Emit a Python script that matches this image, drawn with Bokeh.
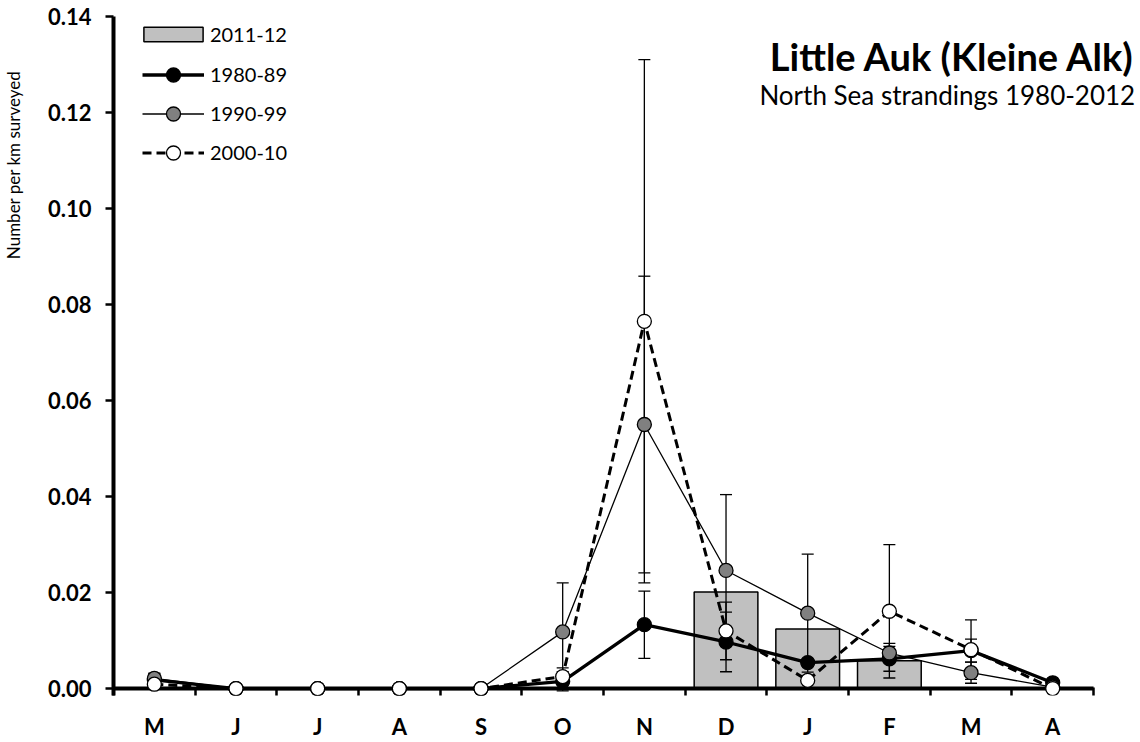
import numpy as np
from bokeh.plotting import figure
from bokeh.models import (ColumnDataSource, Range1d, FixedTicker, CustomJSTickFormatter,
                          NumeralTickFormatter, Whisker, TeeHead, Label, Legend, LegendItem, Title)
from bokeh.embed import file_html
from bokeh.resources import INLINE

NaN = float("nan")

# ---- data ----
months = ["M", "J", "J", "A", "S", "O", "N", "D", "J", "F", "M", "A"]
bars_2011_12 = [NaN, NaN, NaN, NaN, NaN, NaN, NaN, 0.0201, 0.0124, 0.0058, NaN, NaN]

y_1980_89 = [0.0018, 0.0, 0.0, 0.0, 0.0, 0.0015, 0.0133, 0.0097, 0.0054, 0.0062, 0.0079, 0.0012]
e_1980_89 = [0.0014, 0.0, 0.0, 0.0, 0.0, 0.0020, 0.0070, 0.0062, 0.0008, 0.0026, 0.0024, 0.0004]

y_1990_99 = [0.0021, 0.0, 0.0, 0.0, 0.0, 0.0118, 0.0550, 0.0246, 0.0157, 0.0074, 0.0033, 0.0003]
e_1990_99 = [0.0010, 0.0, 0.0, 0.0, 0.0, 0.0102, 0.0309, 0.0158, 0.0123, 0.0020, 0.0022, 0.0002]

y_2000_10 = [0.0009, 0.0, 0.0, 0.0, 0.0, 0.0025, 0.0765, 0.0120, 0.0017, 0.0161, 0.0081, 0.0]
e_2000_10 = [0.0005, 0.0, 0.0, 0.0, 0.0, 0.0018, 0.0545, 0.0060, 0.0006, 0.0139, 0.0062, 0.0001]

y_ticks = [0.0, 0.02, 0.04, 0.06, 0.08, 0.10, 0.12, 0.14]

title_text = "Little Auk (Kleine Alk)"
subtitle_text = "North Sea strandings 1980-2012"
y_label_text = "Number per km surveyed"

# ---- figure ----
n = len(months)
x = list(np.arange(n) + 0.5)

p = figure(width=1140, height=742, x_range=Range1d(0, n + 0.575),
           y_range=Range1d(-0.00145, 0.14), output_backend="svg", toolbar_location=None,
           min_border_left=113, min_border_right=0, min_border_top=16, min_border_bottom=43)
p.outline_line_color = None
p.xgrid.visible = False
p.ygrid.visible = False
p.background_fill_color = "white"

# bars
bar_r = p.vbar(x=x, top=bars_2011_12, bottom=0, width=0.78, fill_color="#c0c0c0",
               line_color="black", line_width=1.5, level="underlay")

# x axis base line at zero (spanning the categories)
p.segment(x0=[0], y0=[0], x1=[n], y1=[0], line_color="black", line_width=4, level="underlay")

# error bars
def add_whisker(vals, errs):
    xs = [xi for xi, e in zip(x, errs) if e > 0]
    up = [v + e for v, e in zip(vals, errs) if e > 0]
    lo = [v - e for v, e in zip(vals, errs) if e > 0]
    src = ColumnDataSource(dict(base=xs, upper=up, lower=lo))
    w = Whisker(source=src, base="base", upper="upper", lower="lower", level="underlay",
                line_color="black", line_width=1.3,
                upper_head=TeeHead(size=12, line_color="black", line_width=1.3),
                lower_head=TeeHead(size=12, line_color="black", line_width=1.3))
    p.add_layout(w)

add_whisker(y_1980_89, e_1980_89)
add_whisker(y_1990_99, e_1990_99)
add_whisker(y_2000_10, e_2000_10)

# series
l1 = p.line(x, y_1980_89, line_color="black", line_width=3.3, line_join="round")
s1 = p.scatter(x, y_1980_89, size=14, marker="circle", fill_color="black",
               line_color="black", line_width=1.3)
l2 = p.line(x, y_1990_99, line_color="black", line_width=1.3, line_join="round")
s2 = p.scatter(x, y_1990_99, size=14, marker="circle", fill_color="#808080",
               line_color="black", line_width=1.3)
l3 = p.line(x, y_2000_10, line_color="black", line_width=3, line_dash="9 5", line_join="round")
s3 = p.scatter(x, y_2000_10, size=14, marker="circle", fill_color="white",
               line_color="black", line_width=1.3)

# axes
xa = p.xaxis[0]
xa.ticker = FixedTicker(ticks=x, minor_ticks=list(range(n + 1)))
xa.formatter = CustomJSTickFormatter(args=dict(labels=months),
                                     code="return labels[Math.floor(tick)];")
xa.axis_line_color = None
xa.major_tick_line_color = None
xa.major_tick_out = 0
xa.major_tick_in = 0
xa.minor_tick_in = 8
xa.minor_tick_out = 0
xa.minor_tick_line_color = "black"
xa.minor_tick_line_width = 2.5
xa.major_label_standoff = 17
xa.major_label_text_font = "Lato"
xa.major_label_text_font_style = "bold"
xa.major_label_text_font_size = "22px"
xa.major_label_text_color = "black"

ya = p.yaxis[0]
ya.ticker = FixedTicker(ticks=y_ticks)
ya.formatter = NumeralTickFormatter(format="0.00")
ya.axis_line_color = "black"
ya.axis_line_width = 4
ya.major_tick_out = 8
ya.major_tick_in = 0
ya.major_tick_line_width = 2.5
ya.minor_tick_line_color = None
ya.major_label_standoff = 14
ya.major_label_text_font = "Lato"
ya.major_label_text_font_style = "bold"
ya.major_label_text_font_size = "22px"
ya.major_label_text_color = "black"
# invisible spacer label, pushes the axis title further out
ya.axis_label = " "
ya.axis_label_text_font_size = "1px"
ya.axis_label_standoff = 17

# y axis title (left side, aligned near the top)
yt = Title(text=y_label_text, align="right", vertical_align="bottom", text_font="Lato",
           text_font_style="normal", text_font_size="17px", text_color="black")
yt.offset = 54
try:
    yt.standoff = 0
except Exception:
    pass
p.add_layout(yt, "left")

# chart title / subtitle
p.add_layout(Label(x=12.51, y=0.1317, text=title_text, text_align="right",
                   text_baseline="middle", text_font="Lato", text_font_style="bold",
                   text_font_size="38px", text_color="black"))
p.add_layout(Label(x=12.51, y=0.1236, text=subtitle_text, text_align="right",
                   text_baseline="middle", text_font="Lato",
                   text_font_size="26px", text_color="black"))

# legends
leg1 = Legend(items=[LegendItem(label="2011-12", renderers=[bar_r])],
              location=(22.9, 649), glyph_width=74, glyph_height=18, label_height=18,
              label_standoff=0, padding=0, margin=0, spacing=0,
              border_line_color=None, background_fill_alpha=0,
              label_text_font="Lato", label_text_font_size="20px", label_text_color="black")
leg2 = Legend(items=[LegendItem(label="1980-89", renderers=[l1, s1]),
                     LegendItem(label="1990-99", renderers=[l2, s2]),
                     LegendItem(label="2000-10", renderers=[l3, s3])],
              location=(29, 525.5), glyph_width=62, glyph_height=35, label_height=35,
              label_standoff=6, padding=0, margin=0, spacing=4,
              border_line_color=None, background_fill_alpha=0,
              label_text_font="Lato", label_text_font_size="20px", label_text_color="black")
p.add_layout(leg1)
p.add_layout(leg2)

open("out.html", "w").write(file_html(p, INLINE))
